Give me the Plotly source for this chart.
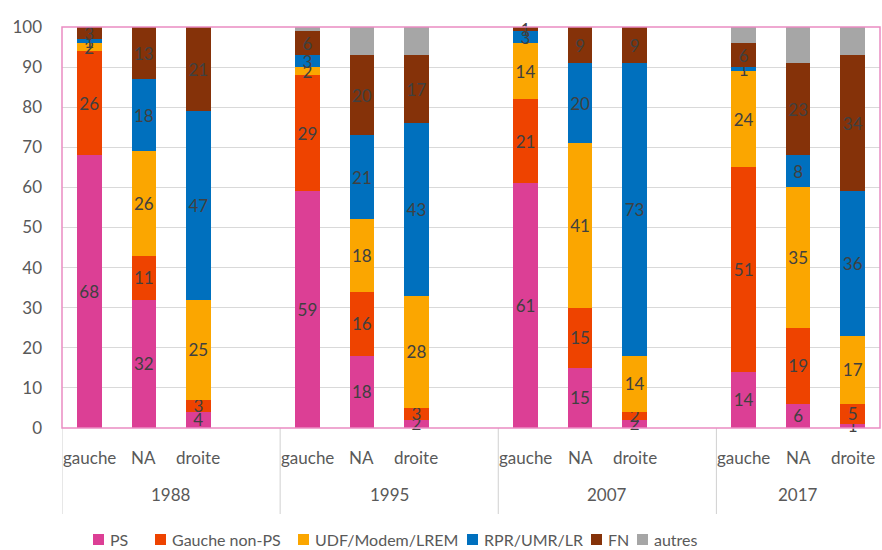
import plotly.graph_objects as go

# ---- data ----
years = ["1988", "1995", "2007", "2017"]
groups = ["gauche", "NA", "droite"]
series_names = ["PS", "Gauche non-PS", "UDF/Modem/LREM", "RPR/UMR/LR", "FN", "autres"]
series_colors = ["#DC3F95", "#EE4300", "#FBA600", "#0070BE", "#853209", "#A6A6A6"]

# order per year: gauche, NA, droite
ps         = [68, 32, 4,  59, 18, 2,  61, 15, 2,  14, 6, 1]
gauche_nps = [26, 11, 3,  29, 16, 3,  21, 15, 2,  51, 19, 5]
udf        = [2, 26, 25,  2, 18, 28,  14, 41, 14, 24, 35, 17]
rpr        = [1, 18, 47,  3, 21, 43,  3, 20, 73,  1, 8, 36]
fn         = [3, 13, 21,  6, 20, 17,  1, 9, 9,    6, 23, 34]
autres     = [0, 0, 0,    1, 7, 7,    0, 0, 0,    4, 9, 8]
series_values = [ps, gauche_nps, udf, rpr, fn, autres]
y_ticks = list(range(0, 101, 10))

# slot positions: 3 bars per year, one empty slot between years
xpos = []
for gi in range(len(years)):
    for ci in range(len(groups)):
        xpos.append(gi * 4 + ci)

FONT = "Lato"
fig = go.Figure()
for name, color, vals in zip(series_names, series_colors, series_values):
    txt = [str(v) if (v > 0 and name != "autres") else "" for v in vals]
    fig.add_trace(go.Bar(
        x=xpos, y=vals, name=name, marker=dict(color=color, line=dict(width=0)),
        width=0.45, text=txt, textposition="inside", insidetextanchor="middle",
        textangle=0, textfont=dict(color="#404040", size=17, family=FONT),
        cliponaxis=False, showlegend=False, hoverinfo="skip",
    ))

PLOT_L, PLOT_R, PLOT_T, PLOT_B = 62, 880, 27, 428
pw = PLOT_R - PLOT_L
ph = PLOT_B - PLOT_T

def py(px):  # pixel y -> paper y
    return (PLOT_B - px) / ph

def pxp(px):  # pixel x -> paper x
    return (px - PLOT_L) / pw

shapes = []
annotations = []
# category labels and year labels
for gi, yr in enumerate(years):
    for ci, g in enumerate(groups):
        annotations.append(dict(x=gi * 4 + ci, y=py(457), xref="x", yref="paper",
                                text=g, showarrow=False, yanchor="middle",
                                font=dict(size=17, color="#595959", family=FONT)))
    lo = gi * 4 - 0.5
    hi = min(gi * 4 + 3.5, 14.5)
    annotations.append(dict(x=(lo + hi) / 2, y=py(495), xref="x", yref="paper", text=yr,
                            showarrow=False, yanchor="middle",
                            font=dict(size=17, color="#595959", family=FONT)))
# group separators
for xs in [-0.5, 3.5, 7.5, 11.5]:
    shapes.append(dict(type="line", xref="x", yref="paper", x0=xs, x1=xs,
                       y0=0, y1=py(514), line=dict(color="#D0D0D0", width=1)))
# plot border (pink)
shapes.append(dict(type="rect", xref="paper", yref="paper", x0=0, x1=1, y0=0, y1=1,
                   line=dict(color="#EA8CC2", width=1.5)))

# manual legend
leg_sq = [93, 155, 298, 467, 591, 637]
for name, color, sx in zip(series_names, series_colors, leg_sq):
    shapes.append(dict(type="rect", xref="paper", yref="paper",
                       x0=pxp(sx), x1=pxp(sx + 11), y0=py(545), y1=py(534),
                       fillcolor=color, line=dict(width=0)))
    annotations.append(dict(x=pxp(sx + 15), y=py(539), xref="paper", yref="paper",
                            text=name, showarrow=False, xanchor="left", yanchor="middle",
                            font=dict(size=16, color="#595959", family=FONT)))

fig.update_layout(
    width=882, height=550, barmode="stack",
    margin=dict(l=PLOT_L, r=882 - PLOT_R, t=PLOT_T, b=550 - PLOT_B),
    paper_bgcolor="white", plot_bgcolor="white",
    uniformtext=dict(minsize=17, mode="show"),
    xaxis=dict(range=[-0.5, 14.5], showticklabels=False, showgrid=False,
               zeroline=False, showline=False, ticks=""),
    yaxis=dict(range=[0, 100], tickvals=y_ticks, showgrid=True, gridcolor="#D9D9D9",
               gridwidth=1, zeroline=False, showline=False,
               tickfont=dict(size=17, color="#595959", family=FONT),
               ticklabelstandoff=19),
    shapes=shapes, annotations=annotations,
    font=dict(family=FONT),
)
fig.write_html("out.html")
